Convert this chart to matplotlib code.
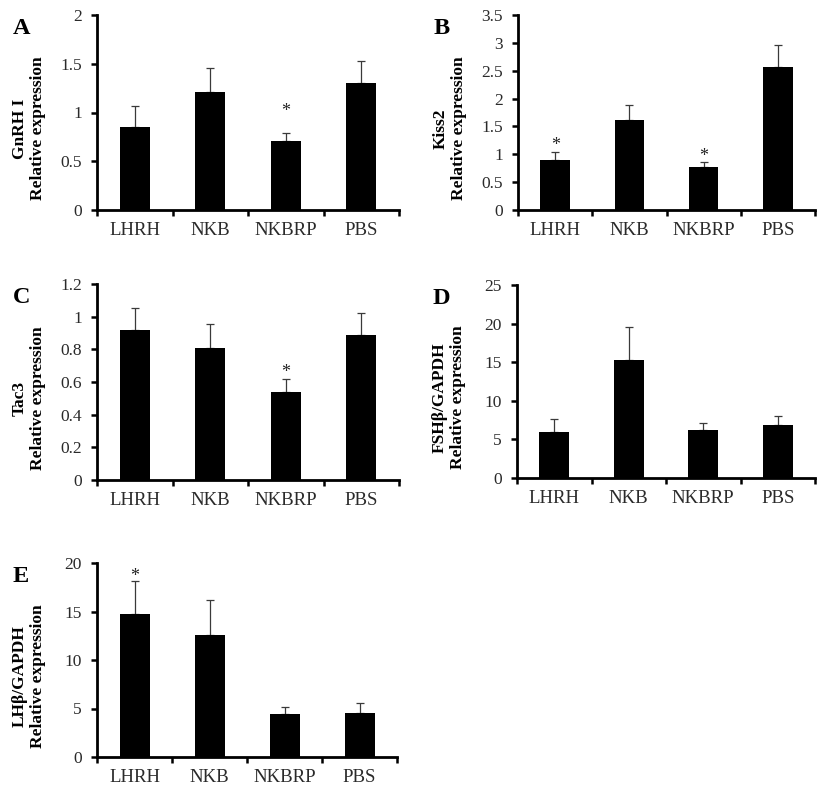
import matplotlib
matplotlib.use("Agg")
import matplotlib.pyplot as plt
from matplotlib.ticker import FuncFormatter, FixedLocator

plt.rcParams['font.family'] = ['Liberation Serif', 'DejaVu Serif']

categories = ["LHRH", "NKB", "NKBRP", "PBS"]

gnrh_mean = [0.85, 1.21, 0.71, 1.30]
gnrh_err = [0.22, 0.245, 0.08, 0.225]
gnrh_star = [False, False, True, False]

kiss2_mean = [0.90, 1.62, 0.78, 2.57]
kiss2_err = [0.15, 0.27, 0.08, 0.40]
kiss2_star = [True, False, True, False]

tac3_mean = [0.92, 0.81, 0.54, 0.885]
tac3_err = [0.135, 0.145, 0.08, 0.135]
tac3_star = [False, False, True, False]

fsh_mean = [6.0, 15.3, 6.2, 6.9]
fsh_err = [1.7, 4.3, 0.95, 1.15]
fsh_star = [False, False, False, False]

lh_mean = [14.7, 12.6, 4.45, 4.55]
lh_err = [3.45, 3.55, 0.7, 1.05]
lh_star = [True, False, False, False]

W, H = 827, 795
fig = plt.figure(figsize=(W / 100, H / 100), dpi=100)

panels = [
    # letter, ylabel, mean, err, star, ymax, ystep, (left, right, top, bottom) px, star gap
    ("A", "GnRH I\nRelative expression", gnrh_mean, gnrh_err, gnrh_star, 2.0, 0.5, (97, 399, 15, 210), 0.13),
    ("B", "Kiss2\nRelative expression", kiss2_mean, kiss2_err, kiss2_star, 3.5, 0.5, (518, 815, 15, 210), 0.05),
    ("C", "Tac3\nRelative expression", tac3_mean, tac3_err, tac3_star, 1.2, 0.2, (97, 399, 284, 480), 0.05),
    ("D", "FSHβ/GAPDH\nRelative expression", fsh_mean, fsh_err, fsh_star, 25, 5, (517, 815, 285, 478), 0.05),
    ("E", "LHβ/GAPDH\nRelative expression", lh_mean, lh_err, lh_star, 20, 5, (97, 397, 563, 757), 0.045),
]

tick_color = "#2a2a2a"

for letter, ylabel, mean, err, star, ymax, ystep, (l, r, t, b), gap in panels:
    ax = fig.add_axes([l / W, 1 - b / H, (r - l) / W, (b - t) / H])
    x = list(range(len(categories)))
    ax.bar(x, mean, width=0.4, color="black", zorder=2)
    ax.errorbar(x, mean, yerr=[[0] * len(err), err], fmt="none",
                ecolor="#3a3a3a", elinewidth=0.9, capsize=3, capthick=0.9, zorder=1)
    for i, s in enumerate(star):
        if s:
            ax.annotate("*", xy=(i, mean[i] + err[i] + gap * ymax), xytext=(0, -6),
                        textcoords="offset points", ha="center", va="baseline",
                        fontsize=13, color="#222222")
    ax.set_xlim(-0.5, len(categories) - 0.5)
    ax.set_ylim(0, ymax)
    nt = int(round(ymax / ystep))
    ax.set_yticks([k * ystep for k in range(nt + 1)])
    ax.yaxis.set_major_formatter(FuncFormatter(lambda v, p: "%g" % round(v, 3)))
    ax.set_xticks(x)
    ax.set_xticklabels(categories)
    ax.xaxis.set_minor_locator(FixedLocator([k - 0.5 for k in range(len(categories) + 1)]))
    ax.tick_params(axis="x", which="major", length=0, pad=8.5, labelsize=13.5, labelcolor=tick_color)
    ax.tick_params(axis="x", which="minor", length=4, width=1.8, direction="out", color="black")
    ax.tick_params(axis="y", which="major", length=4, width=1.8, direction="out", pad=7,
                   labelsize=12.5, labelcolor=tick_color)
    for sp in ["top", "right"]:
        ax.spines[sp].set_visible(False)
    for sp in ["left", "bottom"]:
        ax.spines[sp].set_linewidth(2)
        ax.spines[sp].set_color("black")
    ax.spines["bottom"].set_zorder(3)

    # y label (two bold lines, centered)
    lab_x = (l - 68) / W
    lab_y = 1 - ((t + b) / 2 + 16) / H
    fig.text(lab_x, lab_y, ylabel, rotation=90, ha="center", va="center",
             multialignment="center", fontsize=12.5, fontweight="bold", linespacing=1.15)
    # panel letter
    fig.text((l - 84) / W, 1 - (t + 19) / H, letter, ha="left", va="baseline",
             fontsize=17.5, fontweight="bold")

fig.savefig("out.png", dpi=100)
